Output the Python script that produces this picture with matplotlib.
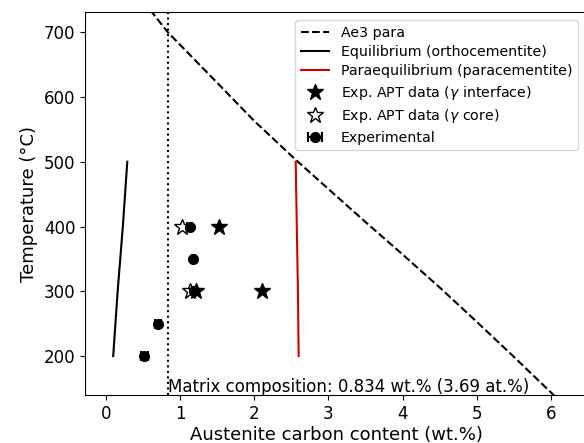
import numpy as np
import matplotlib
matplotlib.use("Agg")
import matplotlib.pyplot as plt

# Ae3 para boundary (wt.% C, degC)
ae3_x = [0.60, 0.834, 1.5, 2.0, 2.56, 3.0, 3.5, 4.0, 4.5, 5.0, 5.5, 6.1]
ae3_T = [734, 700, 622, 563, 503, 458, 407, 357, 306, 253, 199, 133]

# equilibrium (orthocementite) and paraequilibrium (paracementite)
eq_x = [0.10, 0.16, 0.23, 0.29]
eq_T = [200, 300, 400, 500]
para_x = [2.60, 2.59, 2.575, 2.56]
para_T = [200, 300, 400, 500]

# APT data
apt_int_x = [1.53, 2.11, 1.21]
apt_int_T = [400, 300, 300]
apt_core_x = [1.03, 1.14]
apt_core_T = [400, 300]

# experimental with error
exp_x = [0.52, 0.71, 1.18, 1.13, 1.19]
exp_T = [200, 250, 350, 400, 300]
exp_err = [0.05, 0.04, 0.02, 0.03, 0.03]

matrix_c = 0.834

fig = plt.figure(figsize=(5.84, 4.43), dpi=100)
ax = fig.add_axes([85/584, 48/443, 503/584, 383/443])

ax.plot(ae3_x, ae3_T, "k--", lw=1.5, label="Ae3 para")
ax.plot(eq_x, eq_T, "k-", lw=1.5, label="Equilibrium (orthocementite)")
ax.plot(para_x, para_T, "-", color="#d40000", lw=1.5, label="Paraequilibrium (paracementite)")
ax.plot(apt_core_x, apt_core_T, "*", ms=12, mfc="white", mec="k", ls="none", label=r"Exp. APT data ($\gamma$ core)", zorder=3)
ax.plot(apt_int_x, apt_int_T, "*", ms=12, color="k", ls="none", label=r"Exp. APT data ($\gamma$ interface)", zorder=4)
ax.errorbar(exp_x, exp_T, xerr=exp_err, fmt="o", color="k", ms=7, capsize=3.5,
            elinewidth=1.5, capthick=1.5, label="Experimental", zorder=4)
ax.axvline(matrix_c, color="k", ls=":", lw=1.5)
ax.text(matrix_c + 0.01, 145, "Matrix composition: 0.834 wt.% (3.69 at.%)", fontsize=12, va="baseline", ha="left")

ax.set_xlim(-0.28, 6.5)
ax.set_ylim(140, 731)
ax.set_xticks([0, 1, 2, 3, 4, 5, 6])
ax.tick_params(labelsize=12)
ax.set_xlabel("Austenite carbon content (wt.%)", fontsize=13, labelpad=2)
ax.set_ylabel("Temperature (°C)", fontsize=13)
ax.spines["right"].set_visible(False)

h, l = ax.get_legend_handles_labels()
order = [0, 1, 2, 4, 3, 5]
ax.legend([h[i] for i in order], [l[i] for i in order], loc="upper right",
          bbox_to_anchor=(578/584, 1 - 20/443), bbox_transform=fig.transFigure,
          borderaxespad=0, fontsize=10.2, labelspacing=0.38)

fig.savefig("out.png", dpi=100)
